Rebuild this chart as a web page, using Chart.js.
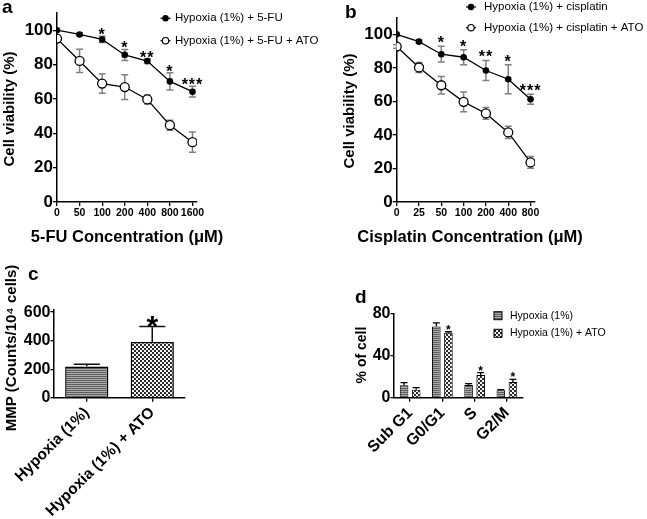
<!DOCTYPE html>
<html>
<head>
<meta charset="utf-8">
<script src="https://cdn.jsdelivr.net/npm/chart.js@4.4.1/dist/chart.umd.min.js"></script>
<style>
  html, body { margin: 0; padding: 0; background: #fff; }
  #wrap { position: relative; width: 647px; height: 519px; }
  #wrap canvas { position: absolute; left: 0; top: 0; }
</style>
</head>
<body>
<div id="wrap">
  <canvas id="chartA" width="647" height="519"></canvas>
  <canvas id="chartB" width="647" height="519"></canvas>
  <canvas id="chartC" width="647" height="519"></canvas>
  <canvas id="chartD" width="647" height="519"></canvas>
</div>
<script>
// panel a - 5-FU
const fuDoses = ['0', '50', '100', '200', '400', '800', '1600'];
const fuLabels = ['Hypoxia (1%) + 5-FU', 'Hypoxia (1%) + 5-FU + ATO'];
const fuMean = [100, 97.5, 94.6, 85.6, 82.0, 70.2, 64.2];
const fuErr = [0, 0.8, 1.8, 3.2, 1.4, 5.0, 3.1];
const fuAtoMean = [95.1, 82.1, 68.9, 66.9, 59.7, 44.7, 34.8];
const fuAtoErr = [0, 6.8, 5.6, 7.2, 2.6, 2.9, 5.9];
const fuSig = ['', '', '*', '*', '**', '*', '***'];

// panel b - cisplatin
const cisDoses = ['0', '25', '50', '100', '200', '400', '800'];
const cisLabels = ['Hypoxia (1%) + cisplatin', 'Hypoxia (1%) + cisplatin + ATO'];
const cisMean = [100, 95.6, 88.1, 86.3, 78.4, 73.2, 61.3];
const cisErr = [0, 0.8, 4.7, 4.5, 6.0, 8.7, 3.0];
const cisAtoMean = [92.7, 80.2, 69.6, 59.7, 52.8, 41.5, 23.6];
const cisAtoErr = [1.0, 3.0, 5.2, 5.9, 3.5, 3.6, 3.5];
const cisSig = ['', '', '*', '*', '**', '*', '***'];

const viabilityTicks = [0, 20, 40, 60, 80, 100];

// panel c - MMP
const mmpGroups = ['Hypoxia (1%)', 'Hypoxia (1%) + ATO'];
const mmpMean = [218, 391];
const mmpErr = [16, 108];
const mmpSig = ['', '*'];
const mmpTicks = [0, 200, 400, 600];

// panel d - cell cycle
const phases = ['Sub G1', 'G0/G1', 'S', 'G2/M'];
const cycleLabels = ['Hypoxia (1%)', 'Hypoxia (1%) + ATO'];
const cycleHyp = [11.7, 67.4, 12.0, 7.0];
const cycleHypErr = [2.6, 3.5, 1.4, 0.6];
const cycleAto = [7.6, 61.5, 21.6, 14.9];
const cycleAtoErr = [1.9, 1.0, 2.2, 2.4];
const cycleSig = ['', '*', '*', '*'];
const cycleTicks = [0, 20, 40, 60, 80];

const FONT = "'Liberation Sans', Arial, Helvetica, sans-serif";
Chart.defaults.font.family = FONT;
Chart.defaults.color = '#000';

function makePattern(canvasId, kind) {
  const tile = document.createElement('canvas');
  const g = tile.getContext('2d');
  if (kind === 'stripes') {
    tile.width = 2; tile.height = 2;
    g.fillStyle = '#ababab'; g.fillRect(0, 0, 2, 2);
    g.fillStyle = '#5c5c5c'; g.fillRect(0, 0, 2, 1);
  } else {
    tile.width = 4; tile.height = 4;
    g.fillStyle = '#f4f4f4'; g.fillRect(0, 0, 4, 4);
    g.fillStyle = '#2a2a2a'; g.fillRect(0, 0, 2, 2); g.fillRect(2, 2, 2, 2);
  }
  return document.getElementById(canvasId).getContext('2d').createPattern(tile, 'repeat');
}

// error bars, asterisks, axis titles, legend and panel letter
function makeExtras(cfg) {
  const valueOf = (d) => (typeof d === 'object' ? d.y : d);
  return {
    id: 'extras',
    beforeDatasetsDraw(chart) {
      const { ctx, scales: { y } } = chart;
      ctx.save();
      cfg.errors.forEach((errs, di) => {
        const meta = chart.getDatasetMeta(di);
        const vals = chart.data.datasets[di].data;
        ctx.strokeStyle = cfg.errorColor;
        ctx.lineWidth = cfg.errorWidth;
        meta.data.forEach((el, j) => {
          const e = errs[j];
          if (!e) return;
          const v = valueOf(vals[j]);
          const top = y.getPixelForValue(v + e);
          const bot = y.getPixelForValue(cfg.both ? v - e : v);
          ctx.beginPath();
          ctx.moveTo(el.x, top); ctx.lineTo(el.x, bot);
          ctx.moveTo(el.x - cfg.cap, top); ctx.lineTo(el.x + cfg.cap, top);
          if (cfg.both) { ctx.moveTo(el.x - cfg.cap, bot); ctx.lineTo(el.x + cfg.cap, bot); }
          ctx.stroke();
        });
      });
      ctx.restore();
    },
    afterDraw(chart) {
      const { ctx, scales: { y } } = chart;
      ctx.save();
      // significance marks
      const meta = chart.getDatasetMeta(cfg.sigDs);
      const vals = chart.data.datasets[cfg.sigDs].data;
      ctx.font = 'bold ' + cfg.sigSize + 'px ' + FONT;
      ctx.textAlign = 'center';
      ctx.textBaseline = 'alphabetic';
      ctx.fillStyle = '#000';
      ctx.letterSpacing = cfg.sigSpacing || '0px';
      cfg.sig.forEach((s, j) => {
        if (!s) return;
        const el = meta.data[j];
        const top = y.getPixelForValue(valueOf(vals[j]) + (cfg.errors[cfg.sigDs][j] || 0));
        ctx.fillText(s, el.x, top + cfg.sigLift);
      });
      ctx.letterSpacing = '0px';
      // axis titles (drawn here so Chart.js does not squeeze them to the axis length)
      ctx.textBaseline = 'middle';
      cfg.titles.forEach((t) => {
        ctx.save();
        ctx.font = 'bold ' + t.size + 'px ' + FONT;
        ctx.translate(t.x, t.y);
        if (t.rot) ctx.rotate(-Math.PI / 2);
        ctx.fillText(t.text, 0, 0);
        ctx.restore();
      });
      // legend
      const lg = cfg.legend;
      if (lg) {
        ctx.font = lg.size + 'px ' + FONT;
        ctx.textAlign = 'left';
        ctx.textBaseline = 'middle';
        lg.rows.forEach((ry, i) => {
          const ds = chart.data.datasets[i];
          if (lg.kind === 'line') {
            ctx.strokeStyle = '#000';
            ctx.lineWidth = 1.2;
            ctx.beginPath();
            ctx.moveTo(lg.x - 5, ry); ctx.lineTo(lg.x + 5, ry);
            ctx.stroke();
            ctx.beginPath();
            ctx.arc(lg.x, ry, i === 0 ? 2.6 : 3.2, 0, Math.PI * 2);
            ctx.fillStyle = ds.pointBackgroundColor;
            ctx.fill();
            ctx.stroke();
          } else {
            ctx.fillStyle = ds.backgroundColor;
            ctx.fillRect(lg.x - 4, ry - 4, 8, 8);
            ctx.strokeStyle = '#000';
            ctx.lineWidth = 1;
            ctx.strokeRect(lg.x - 4, ry - 4, 8, 8);
          }
          ctx.fillStyle = '#000';
          ctx.fillText(ds.label, lg.textX, ry);
        });
      }
      // panel letter
      ctx.font = 'bold 19px ' + FONT;
      ctx.textAlign = 'left';
      ctx.textBaseline = 'alphabetic';
      ctx.fillStyle = '#000';
      ctx.fillText(cfg.panel.text, cfg.panel.x, cfg.panel.y);
      ctx.restore();
    }
  };
}

function lineDatasets(labels, mean, atoMean) {
  return [
    {
      label: labels[0], data: mean.map((v, i) => ({ x: i, y: v })),
      borderColor: '#000', borderWidth: 1.3, pointRadius: 3.3,
      pointBackgroundColor: '#000', pointBorderColor: '#000', pointBorderWidth: 0
    },
    {
      label: labels[1], data: atoMean.map((v, i) => ({ x: i, y: v })),
      borderColor: '#000', borderWidth: 1.3, pointRadius: 4.5,
      pointBackgroundColor: '#fff', pointBorderColor: '#000', pointBorderWidth: 1.3
    }
  ];
}

function lineScales(doses, xMax, yWidth) {
  return {
    x: {
      type: 'linear', min: 0, max: xMax,
      afterBuildTicks: (s) => { s.ticks = doses.map((d, i) => ({ value: i })); },
      afterFit: (s) => { s.height = 48; s.paddingLeft = 0; s.paddingRight = 0; },
      ticks: { callback: (v) => doses[v], font: { size: 10.5, weight: 'bold' }, padding: 1, maxRotation: 0, autoSkip: false },
      grid: { drawOnChartArea: false, tickLength: 4, color: '#000', lineWidth: 1.3 },
      border: { color: '#000', width: 1.5 }
    },
    y: {
      min: 0, max: 110,
      afterBuildTicks: (s) => { s.ticks = viabilityTicks.map((v) => ({ value: v })); },
      afterFit: (s) => { s.width = yWidth; s.paddingTop = 0; s.paddingBottom = 0; },
      ticks: { font: { size: 17, weight: 'bold' }, padding: 0 },
      grid: { drawOnChartArea: false, tickLength: 4, color: '#000', lineWidth: 1.3 },
      border: { color: '#000', width: 1.5 }
    }
  };
}

const common = {
  responsive: false,
  animation: false,
  events: [],
  plugins: { legend: { display: false }, tooltip: { enabled: false } }
};

new Chart(document.getElementById('chartA'), {
  type: 'line',
  data: { datasets: lineDatasets(fuLabels, fuMean, fuAtoMean) },
  options: {
    ...common,
    layout: { padding: { left: 0, top: 13, right: 450, bottom: 269 } },
    scales: lineScales(fuDoses, 6.2, 57)
  },
  plugins: [makeExtras({
    errors: [fuErr, fuAtoErr], both: true, errorColor: '#808080', errorWidth: 1.5, cap: 3.5,
    sig: fuSig, sigDs: 0, sigSize: 16, sigLift: 4, sigSpacing: '1px',
    titles: [
      { text: '5-FU Concentration (μM)', x: 127, y: 237, size: 16.5 },
      { text: 'Cell viability (%)', x: 10, y: 109, size: 15, rot: true }
    ],
    legend: { kind: 'line', x: 165.5, textX: 175, rows: [18.3, 40.7], size: 11.5 },
    panel: { text: 'a', x: 2, y: 13 }
  })]
});

new Chart(document.getElementById('chartB'), {
  type: 'line',
  data: { datasets: lineDatasets(cisLabels, cisMean, cisAtoMean) },
  options: {
    ...common,
    layout: { padding: { left: 325, top: 17.5, right: 112, bottom: 269 } },
    scales: lineScales(cisDoses, 6.2, 71.7)
  },
  plugins: [makeExtras({
    errors: [cisErr, cisAtoErr], both: true, errorColor: '#808080', errorWidth: 1.5, cap: 3.5,
    sig: cisSig, sigDs: 0, sigSize: 16, sigLift: 2, sigSpacing: '1px',
    titles: [
      { text: 'Cisplatin Concentration (μM)', x: 470, y: 237, size: 16.5 },
      { text: 'Cell viability (%)', x: 350, y: 111, size: 15, rot: true }
    ],
    legend: { kind: 'line', x: 471, textX: 484, rows: [7, 27.7], size: 11.5 },
    panel: { text: 'b', x: 345, y: 18 }
  })]
});

function barScales(yMax, yTicks, yWidth, labelSize) {
  return {
    x: {
      afterFit: (s) => { s.height = 121.3; s.paddingLeft = 0; s.paddingRight = 0; },
      ticks: { font: { size: labelSize, weight: 'bold' }, minRotation: 45, maxRotation: 45, padding: 2, autoSkip: false },
      grid: { offset: false, drawOnChartArea: false, tickLength: 4, color: '#000', lineWidth: 1.3 },
      border: { color: '#000', width: 1.5 }
    },
    y: {
      min: 0, max: yMax,
      afterBuildTicks: (s) => { s.ticks = yTicks.map((v) => ({ value: v })); },
      afterFit: (s) => { s.width = yWidth; s.paddingTop = 0; s.paddingBottom = 0; },
      ticks: { font: { size: 16, weight: 'bold' }, padding: 0 },
      grid: { drawOnChartArea: false, tickLength: 3.5, color: '#000', lineWidth: 1.3 },
      border: { color: '#000', width: 1.5 }
    }
  };
}

new Chart(document.getElementById('chartC'), {
  type: 'bar',
  data: {
    labels: mmpGroups,
    datasets: [{
      data: mmpMean,
      backgroundColor: [makePattern('chartC', 'stripes'), makePattern('chartC', 'checks')],
      borderColor: '#000', borderWidth: 1.5, barPercentage: 0.66, categoryPercentage: 1
    }]
  },
  options: {
    ...common,
    layout: { padding: { left: 0, top: 310, right: 462, bottom: 0 } },
    scales: barScales(615, mmpTicks, 54, 15.5)
  },
  plugins: [makeExtras({
    errors: [mmpErr], both: false, errorColor: '#111', errorWidth: 1.5, cap: 13,
    sig: mmpSig, sigDs: 0, sigSize: 30, sigLift: 9,
    titles: [
      { text: 'MMP (Counts/10⁴ cells)', x: 12, y: 348, size: 15, rot: true }
    ],
    panel: { text: 'c', x: 28, y: 280 }
  })]
});

new Chart(document.getElementById('chartD'), {
  type: 'bar',
  data: {
    labels: phases,
    datasets: [
      {
        label: cycleLabels[0], data: cycleHyp, backgroundColor: makePattern('chartD', 'stripes'),
        borderColor: '#000', borderWidth: 1, barPercentage: 0.71, categoryPercentage: 0.75
      },
      {
        label: cycleLabels[1], data: cycleAto, backgroundColor: makePattern('chartD', 'checks'),
        borderColor: '#000', borderWidth: 1, barPercentage: 0.71, categoryPercentage: 0.75
      }
    ]
  },
  options: {
    ...common,
    layout: { padding: { left: 340, top: 313.3, right: 124, bottom: 0 } },
    scales: barScales(80, cycleTicks, 54, 16)
  },
  plugins: [makeExtras({
    errors: [cycleHypErr, cycleAtoErr], both: false, errorColor: '#000', errorWidth: 1.3, cap: 3.5,
    sig: cycleSig, sigDs: 1, sigSize: 12, sigLift: 2,
    titles: [
      { text: '% of cell', x: 362, y: 355, size: 14, rot: true }
    ],
    legend: { kind: 'box', x: 498, textX: 510, rows: [315.7, 333.3], size: 10.5 },
    panel: { text: 'd', x: 355, y: 303 }
  })]
});
</script>
</body>
</html>
